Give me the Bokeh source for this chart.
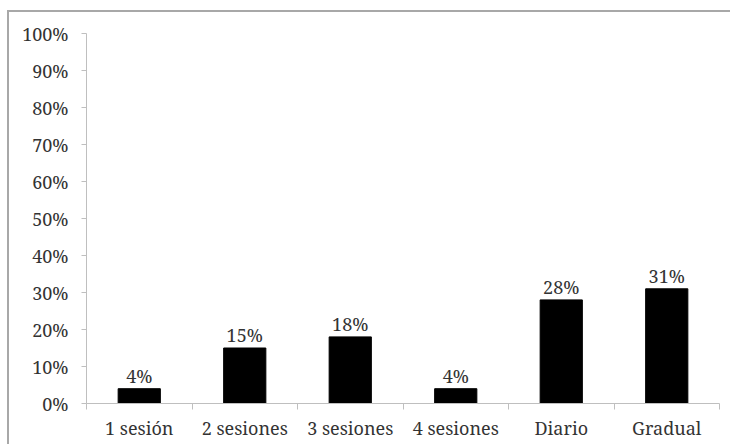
from bokeh.plotting import figure
from bokeh.models import FixedTicker, ColumnDataSource, Range1d
from bokeh.core.properties import value
from bokeh.embed import file_html
from bokeh.resources import INLINE

categories = ["1 sesión", "2 sesiones", "3 sesiones", "4 sesiones", "Diario", "Gradual"]
percentages = [4, 15, 18, 4, 28, 31]
y_ticks = [0, 10, 20, 30, 40, 50, 60, 70, 80, 90, 100]
y_tick_labels = ["0%", "10%", "20%", "30%", "40%", "50%", "60%", "70%", "80%", "90%", "100%"]

FONT = "Noto Serif"
FONT_SIZE = "18px"
AXIS_GRAY = "#bfbfbf"
BORDER_GRAY = "#a8a8a8"

centers = [i + 0.5 for i in range(len(categories))]
source = ColumnDataSource(dict(
    x=centers,
    top=percentages,
    label=[f"{v}%" for v in percentages],
))

p = figure(
    width=723, height=434,
    x_range=Range1d(0, len(categories)), y_range=Range1d(0, 100),
    output_backend="svg", toolbar_location=None,
    min_border_left=77, min_border_right=13,
    min_border_top=21, min_border_bottom=43,
    styles={"position": "absolute", "left": "7px", "top": "10px",
            "border-left": f"2px solid {BORDER_GRAY}",
            "border-top": f"2px solid {BORDER_GRAY}"},
)
p.outline_line_color = None
p.xgrid.grid_line_color = None
p.ygrid.grid_line_color = None

p.vbar(x="x", top="top", bottom=0, width=0.4, source=source,
       fill_color="black", line_color="black")
p.text(x="x", y="top", text="label", source=source,
       text_align="center", text_baseline="alphabetic", y_offset=-13,
       text_font=value(FONT), text_font_size=FONT_SIZE, text_color="#333333")

# x axis: labels under each bar, tick marks between categories
p.xaxis.ticker = FixedTicker(ticks=centers, minor_ticks=list(range(len(categories) + 1)))
p.xaxis.major_label_overrides = {c: lab for c, lab in zip(centers, categories)}
p.xaxis.major_tick_out = 0
p.xaxis.major_tick_in = 0
p.xaxis.minor_tick_out = 6
p.xaxis.minor_tick_in = 0
p.xaxis.minor_tick_line_color = AXIS_GRAY
p.xaxis.major_label_standoff = 6

# y axis: percentage ticks
p.yaxis.ticker = FixedTicker(ticks=y_ticks, minor_ticks=[])
p.yaxis.major_label_overrides = {t: lab for t, lab in zip(y_ticks, y_tick_labels)}
p.yaxis.major_tick_out = 5
p.yaxis.major_tick_in = 0
p.yaxis.major_label_standoff = 13

for ax in (p.xaxis, p.yaxis):
    ax.axis_line_color = AXIS_GRAY
    ax.major_tick_line_color = AXIS_GRAY
    ax.major_label_text_font = FONT
    ax.major_label_text_font_size = FONT_SIZE
    ax.major_label_text_color = "#333333"

open("out.html", "w").write(file_html(p, INLINE))
